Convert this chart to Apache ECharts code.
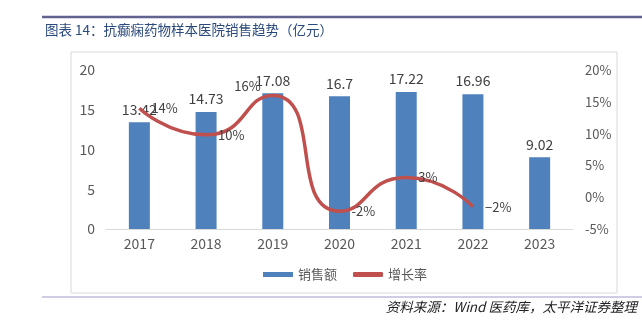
<!DOCTYPE html>
<html><head><meta charset="utf-8">
<script src="https://cdn.jsdelivr.net/npm/echarts@6/dist/echarts.min.js"></script>
<style>html,body{margin:0;padding:0;background:#fff}#c{width:642px;height:321px}</style>
</head><body><div id="c"></div>
<script>
const categories = ['2017','2018','2019','2020','2021','2022','2023'];
const sales = [13.42, 14.73, 17.08, 16.7, 17.22, 16.96, 9.02];
const growth = [14, 9.8, 16.0, -2.2, 3.1, -1.5, null];
const growthLabels = ['14%','10%','16%','-2%','3%','−2%',''];
const leftTicks = [0, 20, 5];
const rightTicks = [-5, 20, 5];

const FONT = '"Noto Sans CJK SC", "Noto Sans", sans-serif';
const chart = echarts.init(document.getElementById('c'));
chart.setOption({
  animation: false,
  textStyle: {fontFamily: FONT},
  graphic: [
    {type:'line', shape:{x1:42,y1:17,x2:642,y2:17}, style:{stroke:'#62628f',lineWidth:2.5}},
    {type:'text', left:45, top:23, style:{text:'图表 14：抗癫痫药物样本医院销售趋势（亿元）', fill:'#2b4a7c', font:'13.5px "Noto Sans CJK SC"'}},
    {type:'rect', shape:{x:71,y:52,width:546,height:241}, style:{fill:'none',stroke:'#d9d9d9',lineWidth:1}, z:-1},
    {type:'line', shape:{x1:42,y1:297,x2:642,y2:297}, style:{stroke:'#9c9cc8',lineWidth:1.2}},
    {type:'text', right:5, top:300, style:{text:'资料来源：Wind 医药库，太平洋证券整理', fill:'#222', font:'italic 13.5px "Noto Sans CJK SC"', align:'right'}}
  ],
  grid: {left:106, right:69, top:70, bottom:92},
  legend: {
    left: 258, top: 263, itemWidth: 30, itemHeight: 5, itemGap: 16,
    textStyle: {color:'#595959', fontSize:13, fontFamily: FONT},
    data: [{name:'销售额', icon:'rect'}, {name:'增长率', icon:'roundRect', itemStyle:{color:'#c0504d'}}]
  },
  xAxis: {
    type:'category', data: categories,
    axisLine:{lineStyle:{color:'#d9d9d9'}}, axisTick:{show:false},
    axisLabel:{color:'#595959', fontSize:14, margin:8}
  },
  yAxis: [
    {type:'value', min:leftTicks[0], max:leftTicks[1], interval:leftTicks[2],
     splitLine:{show:false}, axisLine:{show:false}, axisTick:{show:false},
     axisLabel:{color:'#595959', fontSize:14, margin:11}},
    {type:'value', min:rightTicks[0], max:rightTicks[1], interval:rightTicks[2],
     splitLine:{show:false}, axisLine:{show:false}, axisTick:{show:false},
     axisLabel:{color:'#595959', fontSize:13, margin:12, formatter:'{value}%'}}
  ],
  series: [
    {name:'销售额', type:'bar', data: sales, barWidth:21, itemStyle:{color:'#4f81bd'},
     label:{show:true, position:'top', distance:6, color:'#404040', fontSize:14}},
    {name:'增长率', type:'line', yAxisIndex:1, smooth:0.6, symbol:'circle', symbolSize:0.1,
     data: growth.map((v,i)=>{
       const o = {value:v};
       if (i===2) o.label = {position:'left', offset:[0,-9]};
       return o;
     }),
     lineStyle:{color:'#c0504d', width:3.5}, itemStyle:{color:'#c0504d'},
     label:{show:true, position:'right', distance:12, color:'#404040', fontSize:13,
       formatter: p => growthLabels[p.dataIndex]}}
  ]
});
</script></body></html>
